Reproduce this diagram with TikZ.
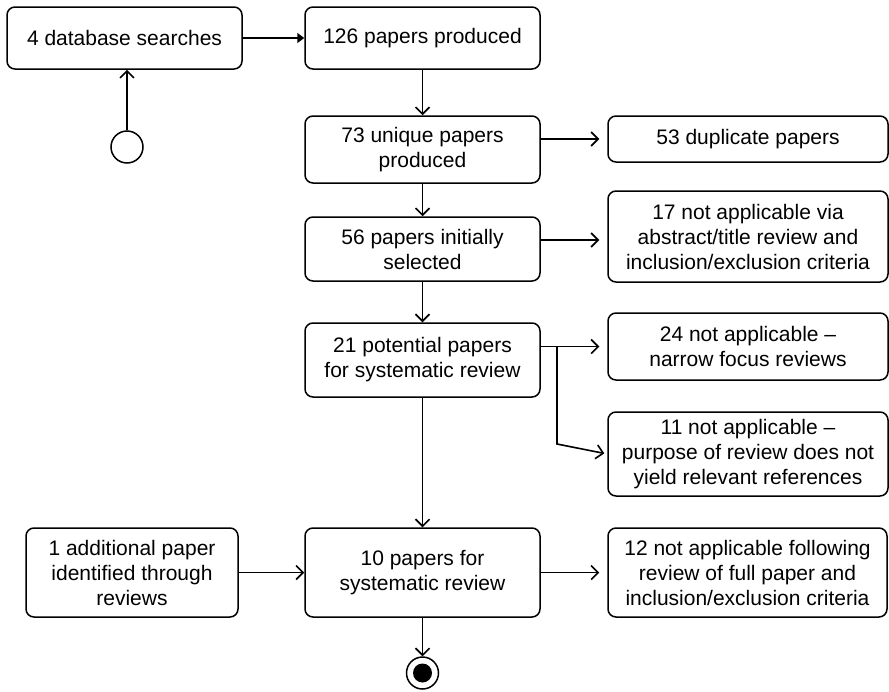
\documentclass[tikz,border=0pt]{standalone}
\usepackage{fontspec}
\setmainfont{Liberation Sans}
\usetikzlibrary{arrows.meta}
\begin{document}
\begin{tikzpicture}[x=1pt,y=-1pt,
  box/.style={draw,line width=1.5pt,rounded corners=8pt,align=center,inner sep=0pt,
    font=\fontsize{21}{25}\selectfont},
  mid/.style={box,minimum width=235pt},
  side/.style={box,minimum width=280pt},
  conn/.style={line width=1.6pt,-{Straight Barb[length=7pt,width=14pt]}},
  gap/.style={shorten >=8pt}]
\useasboundingbox (0,0) rectangle (889,691);
\node[mid,minimum height=62pt] (A) at (124.5,38) {4 database searches};
\node[mid,minimum height=62pt] (B) at (422.5,38) {126 papers produced};
\node[mid,minimum height=67pt] (C) at (422.5,149.5) {73 unique papers\\produced};
\node[side,minimum height=46pt] (Dup) at (748,139) {53 duplicate papers};
\node[mid,minimum height=64pt] (D) at (422.5,249) {56 papers initially\\selected};
\node[side,minimum height=91pt] (E) at (748,236.5) {17 not applicable via\\abstract/title review and\\inclusion/exclusion criteria};
\node[mid,minimum height=74pt] (F) at (422.5,360) {21 potential papers\\for systematic review};
\node[side,minimum height=67pt] (G) at (748,346.5) {24 not applicable --\\narrow focus reviews};
\node[side,minimum height=84pt] (H) at (748,454) {11 not applicable --\\purpose of review does not\\yield relevant references};
\node[box,minimum width=212pt,minimum height=89pt] (I) at (132,572.5) {1 additional paper\\identified through\\reviews};
\node[mid,minimum height=89pt] (J) at (422.5,572.5) {10 papers for\\systematic review};
\node[box,minimum width=279pt,minimum height=89pt] (K) at (747.5,572.5) {12 not applicable following\\review of full paper and\\inclusion/exclusion criteria};
\node[circle,draw,line width=1.5pt,minimum size=32pt,inner sep=0pt] (start) at (127,147) {};
\node[circle,draw,line width=1.5pt,minimum size=32pt,inner sep=0pt] (end) at (422.5,673) {};
\fill (end.center) circle (9.5pt);
% connectors
\draw[line width=1.6pt,-{Triangle[length=7pt,width=10pt]}] (A.east) -- (B.west);
\draw[conn] (start.north) -- (start.north |- A.south);
\draw[conn] (B.south) -- (C.north);
\draw[conn,gap] (Dup.west -| C.east) -- (Dup.west);
\draw[conn] (C.south) -- (D.north);
\coordinate (de) at ([yshift=9pt]D.east);
\draw[conn,gap] (de) -- (de -| E.west);
\draw[conn] (D.south) -- (F.north);
\draw[conn,gap] (G.west -| F.east) -- (G.west);
\coordinate (br) at (557,346.5);
\coordinate (bend) at (557,444);
\draw[conn,shorten >=3pt] (br) -- (bend) -- (H.west);
\draw[conn] (F.south) -- (J.north);
\draw[conn] (I.east) -- (J.west);
\draw[conn,gap] (J.east) -- (K.west);
\draw[conn] (J.south) -- (end.north);
\end{tikzpicture}
\end{document}
